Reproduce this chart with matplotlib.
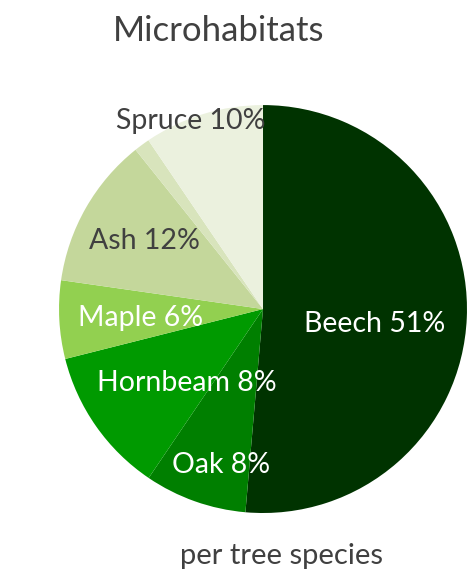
import matplotlib.pyplot as plt
import numpy as np

species = ["Beech", "Oak", "Hornbeam", "Maple", "Ash", "Other", "Spruce"]
shares = [51.4, 8.1, 11.6, 6.2, 12.0, 1.25, 9.5]
label_text = ["Beech 51%", "Oak 8%", "Hornbeam 8%", "Maple 6%", "Ash 12%", "", "Spruce 10%"]
colors = ["#003300", "#007f00", "#009a00", "#92d050", "#c4d79b", "#d8e4bc", "#ebf1de"]

# label placement (radius, angle offset in deg, colour)
label_r = [0.55, 0.79, 0.52, 0.60, 0.67, 0.0, 0.99]
label_dt = [-5, 4.5, 9, 1, 0, 0, 4]
label_col = ["white", "white", "white", "white", "#404040", "#404040", "#404040"]

plt.rcParams['font.family'] = ['Lato', 'DejaVu Sans']


def main():
    fig = plt.figure(figsize=(4.75, 5.77), dpi=100)
    ax = fig.add_axes([0.1242, 0.1109, 0.859, 0.707])
    wedges, _ = ax.pie(shares, colors=colors, startangle=90, counterclock=False,
                       wedgeprops=dict(linewidth=0))
    for i, w in enumerate(wedges):
        if not label_text[i]:
            continue
        mid = np.deg2rad((w.theta1 + w.theta2) / 2 + label_dt[i])
        ax.text(label_r[i] * np.cos(mid), label_r[i] * np.sin(mid), label_text[i],
                ha='center', va='center', fontsize=20.5, color=label_col[i])
    ax.set_xlim(-1, 1)
    ax.set_ylim(-1, 1)
    ax.set_aspect('equal')

    fig.text(219 / 475, 1 - 31 / 577, "Microhabitats", ha='center', va='center',
             fontsize=25, color='#404040')
    fig.text(282 / 475, 1 - 556 / 577, "per tree species", ha='center', va='center',
             fontsize=21, color='#404040')
    fig.savefig("out.png", dpi=100)


if __name__ == '__main__':
    main()
